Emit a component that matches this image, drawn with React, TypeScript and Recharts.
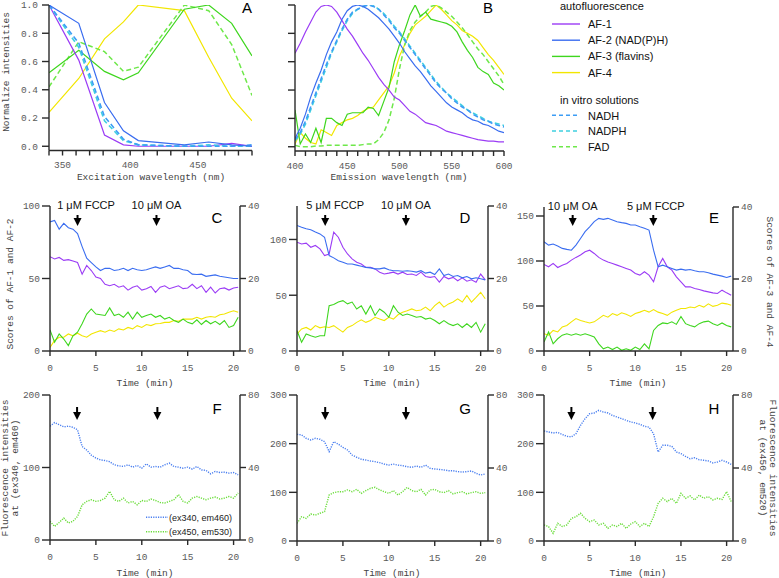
import React from "react";
import { LineChart, Line, XAxis, YAxis, ReferenceDot } from "recharts";

const MONO = "'Liberation Mono', 'DejaVu Sans Mono', monospace";
const SANS = "'Liberation Sans', Arial, sans-serif";

const C_AF1 = "#9b3cf5";
const C_AF2 = "#3a6df0";
const C_AF3 = "#3ed61e";
const C_AF4 = "#f2e600";
const C_NADH = "#3d9df5";
const C_NADPH = "#3fd0e0";
const C_FAD = "#6ee84a";
const C_DOT_BLUE = "#4a7ff0";
const C_DOT_GREEN = "#6add3a";

// ---- A: excitation spectra
const excitation = [340, 362, 381, 395, 406, 440, 458, 475, 490];
const exAF1 = [1.0, 0.61, 0.08, 0.01, 0.0, 0.0, 0.0, 0.02, 0.0];
const exAF2 = [1.0, 0.87, 0.31, 0.11, 0.04, 0.01, 0.03, 0.01, 0.0];
const exAF3 = [0.52, 0.68, 0.53, 0.47, 0.52, 0.97, 1.0, 0.87, 0.64];
const exAF4 = [0.24, 0.48, 0.76, 0.88, 1.0, 0.96, 0.63, 0.34, 0.18];
const exNADH = [1.0, 0.73, 0.21, 0.05, 0.01, 0.0, 0.0, 0.0, 0.01];
const exNADPH = [1.0, 0.7, 0.18, 0.04, 0.01, 0.0, 0.01, 0.0, 0.0];
const exFAD = [0.42, 0.74, 0.67, 0.53, 0.56, 1.0, 0.96, 0.72, 0.36];
const exTicks = [340, 350, 360, 370, 380, 390, 400, 410, 420, 430, 440, 450, 460, 470, 480, 490];

// ---- B: emission spectra
const emission = [
  400, 405, 410, 415, 420, 425, 430, 435, 440, 445, 450, 455, 460, 465, 470, 475, 480, 485, 490, 495, 500,
  505, 510, 515, 520, 525, 530, 535, 540, 545, 550, 555, 560, 565, 570, 575, 580, 585, 590, 595, 600,
];
const emAF1 = [0.66, 0.73, 0.81, 0.88, 0.95, 0.99, 1.0, 0.99, 0.95, 0.89, 0.83, 0.78, 0.72, 0.66, 0.61, 0.55, 0.49, 0.44, 0.4, 0.35, 0.33, 0.29, 0.25, 0.23, 0.2, 0.17, 0.16, 0.15, 0.13, 0.11, 0.1, 0.09, 0.08, 0.07, 0.06, 0.05, 0.045, 0.04, 0.04, 0.035, 0.035];
const emAF2 = [0.06, 0.13, 0.23, 0.35, 0.45, 0.54, 0.65, 0.74, 0.81, 0.9, 0.96, 0.99, 1.0, 0.99, 0.97, 0.94, 0.91, 0.87, 0.83, 0.78, 0.73, 0.67, 0.62, 0.57, 0.53, 0.48, 0.43, 0.39, 0.35, 0.31, 0.28, 0.26, 0.24, 0.21, 0.19, 0.18, 0.16, 0.15, 0.13, 0.11, 0.1];
const emNADH = [0.05, 0.1, 0.18, 0.28, 0.38, 0.48, 0.58, 0.67, 0.75, 0.83, 0.9, 0.95, 0.97, 0.99, 1.0, 0.99, 0.97, 0.93, 0.89, 0.84, 0.8, 0.75, 0.7, 0.65, 0.6, 0.55, 0.5, 0.45, 0.41, 0.38, 0.34, 0.31, 0.28, 0.26, 0.23, 0.21, 0.19, 0.18, 0.16, 0.15, 0.14];
const emNADPH = [0.04, 0.09, 0.16, 0.26, 0.36, 0.46, 0.56, 0.66, 0.74, 0.82, 0.89, 0.94, 0.97, 0.99, 1.0, 1.0, 0.97, 0.94, 0.9, 0.85, 0.81, 0.76, 0.71, 0.66, 0.61, 0.56, 0.51, 0.46, 0.42, 0.38, 0.35, 0.32, 0.29, 0.26, 0.24, 0.22, 0.2, 0.18, 0.17, 0.16, 0.15];
const emAF3 = [0.26, 0.02, 0.09, 0.03, 0.13, 0.03, 0.2, 0.2, 0.17, 0.15, 0.23, 0.24, 0.24, 0.24, 0.28, 0.27, 0.22, 0.32, 0.42, 0.6, 0.72, 0.82, 0.93, 1.0, 0.92, 0.95, 0.9, 0.89, 0.88, 0.87, 0.85, 0.81, 0.74, 0.68, 0.63, 0.56, 0.53, 0.51, 0.45, 0.43, 0.4];
const emAF4 = [0.02, 0.1, 0.06, 0.03, 0.02, 0.12, 0.1, 0.08, 0.15, 0.17, 0.19, 0.2, 0.22, 0.25, 0.27, 0.28, 0.33, 0.38, 0.43, 0.52, 0.64, 0.72, 0.8, 0.86, 0.89, 0.92, 0.96, 1.0, 0.97, 0.93, 0.89, 0.86, 0.82, 0.8, 0.78, 0.75, 0.7, 0.65, 0.61, 0.56, 0.51];
const emFAD = [0.01, 0.0, 0.0, 0.0, 0.005, 0.005, 0.01, 0.01, 0.01, 0.01, 0.01, 0.01, 0.01, 0.015, 0.02, 0.02, 0.05, 0.1, 0.19, 0.34, 0.55, 0.72, 0.82, 0.88, 0.92, 0.95, 0.99, 1.0, 0.98, 0.95, 0.92, 0.88, 0.84, 0.79, 0.74, 0.69, 0.65, 0.6, 0.55, 0.5, 0.44];
const emTicks = [400, 410, 420, 430, 440, 450, 460, 470, 480, 490, 500, 510, 520, 530, 540, 550, 560, 570, 580, 590, 600];

// ---- C-H: time courses (min)
const TIME = [0, 0.5, 1, 1.5, 2, 2.5, 3, 3.5, 4, 4.5, 5, 5.5, 6, 6.5, 7, 7.5, 8, 8.5, 9, 9.5, 10, 10.5, 11, 11.5, 12, 12.5, 13, 13.5, 14, 14.5, 15, 15.5, 16, 16.5, 17, 17.5, 18, 18.5, 19, 19.5, 20, 20.5];

const cAF1 = [65, 63.5, 64.5, 62.5, 63, 62, 61, 53, 59, 55.5, 51, 50, 46, 45, 46, 44, 45, 42, 44, 45, 42, 43, 44.5, 40.5, 44, 45, 43, 44, 45, 43, 43.5, 46, 43, 45, 40.5, 44, 40, 43, 43.5, 42, 43.5, 44];
const cAF2 = [89, 90, 84, 88, 85, 84, 81, 72, 64, 61, 58, 55.5, 57, 57, 55.5, 56, 57, 55.5, 57, 56, 55.5, 56, 57, 58, 57, 58, 59, 57, 57, 56, 55.5, 53, 52.8, 53, 51.5, 52, 52.5, 51.5, 51, 50.5, 50, 50];
const cAF3 = [5.8, 2.4, 4.7, 3.3, 1.5, 4.2, 5.2, 7.5, 10.2, 11.6, 10.2, 10, 9.8, 11.9, 9.8, 10.2, 9.3, 10.7, 8.8, 10.7, 9.3, 9.8, 10.2, 9.3, 9.8, 8.8, 9.3, 8.4, 7.9, 8.8, 7.9, 7.5, 8.6, 7.3, 8.4, 7.5, 8.2, 7.3, 8.4, 6.5, 7, 9.3];
const cAF4 = [1, 2.9, 3.8, 3.8, 4.7, 4.2, 4.9, 4.2, 3.8, 4.7, 5.2, 5.6, 5.2, 5.8, 5.4, 6.1, 5.8, 6.5, 6.1, 7, 6.5, 7.3, 7, 7.5, 7.6, 7.9, 7.9, 8.4, 8.2, 8.8, 8.8, 8.8, 9.3, 8.8, 9.3, 9.5, 9.3, 10, 10.2, 10.7, 11.1, 10.7];

const dAF1 = [97.6, 96, 96.7, 93, 94.6, 91.6, 85.6, 87, 106.6, 102, 93, 87, 82.6, 79.6, 78, 75, 75, 73.6, 70.7, 69, 69.8, 70.7, 69, 70.7, 68.6, 69, 67.7, 70.7, 66.8, 66, 66.8, 61.7, 66.8, 64.7, 66, 63, 65.6, 62.6, 63.8, 61.7, 69, 63.8];
const dAF2 = [112.6, 111, 109.6, 108.7, 106.6, 105, 102, 85.6, 83.5, 81, 79.6, 78, 78, 77, 76, 75, 74.5, 73.6, 73.6, 74.5, 72.8, 72, 72, 71.5, 72, 71.5, 70.7, 72, 69.8, 70.7, 68.6, 73.6, 67.7, 69, 66.8, 67.7, 65.6, 66.8, 64.7, 65.6, 64.7, 63.8];
const dAF3 = [5.6, 2.4, 4.7, 4.2, 3.8, 4.2, 4.2, 12.5, 12.8, 13.5, 13.9, 13, 13.5, 11.6, 12.5, 10.2, 12.5, 9.8, 11.6, 10.7, 9.3, 12.5, 10.7, 9.8, 10.2, 9.8, 9.3, 9.5, 8.8, 9.1, 8.4, 7.5, 8.4, 7.5, 7, 7.5, 6.5, 7.5, 6.5, 7.9, 5.2, 7.5];
const dAF4 = [4.7, 6.1, 6.5, 5.8, 7, 6.4, 6.7, 6.5, 7, 6.1, 5.2, 6.5, 7, 7.9, 8.6, 7.9, 8.4, 9.3, 8.8, 8.4, 9.3, 8.8, 10, 10.7, 11.1, 11.6, 11.1, 11.3, 12.1, 11.1, 12.5, 13.5, 12.1, 13, 13.5, 14.4, 13.5, 15.3, 13.5, 14.8, 16.2, 14.4];

const eAF1 = [96.2, 93.6, 97.3, 92.8, 95.4, 97.3, 101, 104, 106.6, 110.3, 112, 108.4, 104, 101, 99, 97.3, 95.4, 93.6, 91.7, 89.9, 86.1, 84.3, 88, 84.3, 76.9, 93.6, 102.9, 93.6, 89.9, 82.4, 76.9, 71.3, 71.3, 69.4, 68.3, 66.8, 65.7, 64.6, 63.9, 67.6, 64.6, 62];
const eAF2 = [121.4, 117.7, 118.8, 116.6, 114, 112.9, 112, 117.7, 125, 132.6, 138, 143.7, 147.4, 146.3, 147.4, 145.6, 143.7, 142.6, 141.8, 140, 140, 138, 136.3, 134.4, 112, 93.6, 95.4, 93.6, 91.7, 89.9, 91, 89.9, 90.6, 89.1, 88, 88, 86.9, 85.4, 84.3, 83.2, 81.7, 83.2];
const eAF3 = [2.5, 5.3, 2, 3.4, 4.4, 4.8, 4.4, 4.8, 4.4, 4.8, 4.4, 3.9, 2, 0.6, 1.1, 0.4, 1.1, 0.2, 0.6, 0.2, 1.1, 0.4, 2, 0.6, 5.7, 7.1, 7.8, 7.6, 8.1, 7.4, 9.6, 7.6, 7.1, 6.7, 7.6, 8.1, 8.3, 7.6, 7.1, 7.8, 7.1, 6.7];
const eAF4 = [4.8, 4.4, 5.7, 5.3, 6.7, 7.1, 8.1, 9, 8.5, 8.1, 7.8, 8.1, 9, 9.9, 9.4, 10.4, 9.9, 10.6, 10.2, 9.6, 10.4, 10.8, 11.3, 10.8, 11.5, 10.8, 10.4, 9.9, 10.8, 11.3, 11.8, 11.8, 12.2, 12, 12.7, 12.2, 13.1, 12.4, 12.7, 13.3, 13.1, 12.7];

const fBlue = [157, 162, 159, 156, 157, 155.5, 152, 129, 124, 117, 113, 110.5, 109.6, 108, 103.7, 102.3, 101.4, 103.7, 100.5, 102.8, 99, 105, 100.5, 101.4, 100.5, 103.7, 106, 101.4, 100.5, 99, 100.5, 97.7, 101.4, 96.8, 95.9, 91.3, 94.5, 93.1, 93.6, 92.2, 93.1, 90];
const fGreen = [10.3, 7.5, 9.7, 12.1, 9.4, 10.3, 13, 19.4, 21.3, 22.2, 21.3, 21.8, 23.1, 26.8, 22.2, 21.3, 23.1, 20.4, 21.3, 19.4, 21.8, 21.3, 22.6, 21.8, 20.7, 20.4, 21.3, 22.2, 25, 21.3, 20.4, 23.1, 24, 23.1, 22.2, 23.1, 23.7, 22.6, 23.1, 24, 23.1, 25.9];
const gBlue = [219, 218, 211, 207.5, 211, 209, 204, 183.6, 204, 199, 192.5, 187, 176.7, 172, 168, 166.4, 164.4, 163, 161, 158, 156, 158, 156, 154.8, 152.7, 151.4, 154, 151.4, 156, 149.3, 148, 147, 146, 144.5, 144.5, 142.5, 141.8, 142.5, 143.8, 139, 135.6, 137.7];
const gGreen = [9.7, 13.3, 12.4, 14.8, 14.2, 15.2, 16.1, 25.2, 26.5, 27, 27, 28, 27, 28.3, 26.1, 27.6, 28.9, 29.4, 28, 27, 26.1, 27.6, 25.2, 27, 29.4, 27.6, 27, 28.3, 25.2, 28, 28.3, 27, 26.5, 27.6, 25.8, 26.5, 27, 25.8, 26.5, 27, 26.1, 26.5];
const hBlue = [226, 224, 222, 223, 219, 215, 214, 220.5, 237.7, 251.4, 261.6, 263, 268.5, 265, 263, 258, 254.8, 251.4, 248, 244.5, 242.5, 239.7, 235.6, 234, 220.5, 182.9, 196.6, 196.6, 194.5, 182.9, 179.5, 174, 169, 171, 167, 165.8, 164.4, 160.3, 162.3, 165.8, 162.3, 157.5];
const hGreen = [8.8, 7.9, 4.2, 9.7, 7.9, 8.8, 12.4, 13.3, 15.2, 12.4, 10.6, 11.5, 8.8, 9.7, 6.9, 8.8, 7.9, 9.7, 6.9, 9.3, 10.6, 7.9, 9.7, 7.9, 13.3, 20.6, 23.4, 21.6, 23.4, 20.6, 26.1, 23.4, 24.7, 22.5, 25.2, 23.4, 24.3, 22.5, 23.4, 22.8, 27, 21.6];

const timeTicks = [0, 5, 10, 15, 20];

const legendAuto = [
  { name: "AF-1", color: C_AF1 },
  { name: "AF-2 (NAD(P)H)", color: C_AF2 },
  { name: "AF-3 (flavins)", color: C_AF3 },
  { name: "AF-4", color: C_AF4 },
];
const legendVitro = [
  { name: "NADH", color: C_NADH },
  { name: "NADPH", color: C_NADPH },
  { name: "FAD", color: C_FAD },
];

const AXIS = { stroke: "#2a2a2a", strokeWidth: 1.4 };
const TICK = { fill: "#5a5a5a", fontSize: 9.5, fontFamily: MONO };

type Series = { key: string; color: string; axis?: string; dash?: string; width?: number };
type Arrow = { t: number; label?: string; dx?: number };

const spectrumSeries: Series[] = [
  { key: "af4", color: C_AF4 },
  { key: "fad", color: C_FAD, dash: "5 3", width: 1.5 },
  { key: "af3", color: C_AF3 },
  { key: "af1", color: C_AF1 },
  { key: "nadph", color: C_NADPH, dash: "5 3", width: 1.6 },
  { key: "nadh", color: C_NADH, dash: "5 3", width: 1.6 },
  { key: "af2", color: C_AF2 },
];

function zipRows(xKey: string, xs: number[], cols: Record<string, number[]>) {
  return xs.map((x, i) => {
    const r: Record<string, number> = { [xKey]: x };
    for (const k of Object.keys(cols)) r[k] = cols[k][i];
    return r;
  });
}

const rowsA = zipRows("wl", excitation, { af1: exAF1, af2: exAF2, af3: exAF3, af4: exAF4, nadh: exNADH, nadph: exNADPH, fad: exFAD });
const rowsB = zipRows("wl", emission, { af1: emAF1, af2: emAF2, af3: emAF3, af4: emAF4, nadh: emNADH, nadph: emNADPH, fad: emFAD });

// axis sits a few px under the zero line, Igor style
function SpectrumPanel(props: {
  x0: number; y0: number; x1: number; y1: number; leftW: number;
  rows: Record<string, number>[]; domain: number[]; ticks: number[]; yLabels: boolean;
}) {
  const { x0, y0, x1, y1, leftW, rows, domain, ticks, yLabels } = props;
  const topPad = 5, rightW = 12, bottomH = 24;
  return (
    <div style={{ position: "absolute", left: x0 - leftW, top: y0 - topPad }}>
      <LineChart width={x1 - x0 + leftW + rightW} height={y1 - y0 + topPad + bottomH} data={rows}
        margin={{ top: topPad, right: rightW, bottom: 0, left: 0 }}>
        <XAxis dataKey="wl" type="number" domain={domain} ticks={ticks} interval={0} allowDataOverflow
          tickFormatter={(v: number) => (v % 50 === 0 ? String(v) : "")}
          height={bottomH} tickSize={5} tickMargin={6} axisLine={AXIS} tickLine={AXIS} tick={TICK} />
        <YAxis type="number" domain={[-0.03, 1]} ticks={[0, 0.2, 0.4, 0.6, 0.8, 1]} interval={0} width={leftW}
          allowDataOverflow
          tickFormatter={(v: number) => (yLabels ? v.toFixed(1) : "")}
          tickSize={7} tickMargin={4} axisLine={AXIS} tickLine={AXIS} tick={TICK} />
        {spectrumSeries.map((s) => (
          <Line key={s.key} dataKey={s.key} type="linear" stroke={s.color} strokeWidth={s.width ?? 1.2}
            strokeDasharray={s.dash} dot={false} isAnimationActive={false} />
        ))}
      </LineChart>
    </div>
  );
}

function arrowShape(a: Arrow, top: number, tip: number) {
  return (p: any) => {
    const { cx, cy } = p;
    return (
      <g>
        {a.label && (
          <text x={cx + (a.dx ?? 0)} y={cy + 2.5} textAnchor="middle" fontFamily={SANS} fontSize={11} fill="#111">
            {a.label}
          </text>
        )}
        <line x1={cx} y1={cy + top} x2={cx} y2={cy + tip - 6} stroke="#000" strokeWidth={2} />
        <path d={`M${cx - 4},${cy + tip - 8} L${cx + 4},${cy + tip - 8} L${cx},${cy + tip} Z`} fill="#000" />
      </g>
    );
  };
}

function TimePanel(props: {
  x0: number; y0: number; x1: number; y1: number; xMax: number;
  cols: Record<string, number[]>; series: Series[];
  leftMax: number; leftTicks: number[]; rightMax: number; rightTicks: number[];
  arrows: Arrow[]; arrowTop: number; arrowTip: number;
}) {
  const { x0, y0, x1, y1, xMax, cols, series, leftMax, leftTicks, rightMax, rightTicks, arrows, arrowTop, arrowTip } = props;
  const leftW = 48, rightW = 36, topPad = 22, bottomH = 30;
  const rows = zipRows("t", TIME, cols);
  return (
    <div style={{ position: "absolute", left: x0 - leftW, top: y0 - topPad }}>
      <LineChart width={x1 - x0 + leftW + rightW} height={y1 - y0 + topPad + bottomH} data={rows}
        margin={{ top: topPad, right: 0, bottom: 0, left: 0 }}>
        <XAxis dataKey="t" type="number" domain={[0, xMax]} ticks={timeTicks} interval={0} allowDataOverflow
          height={bottomH} tickSize={5} tickMargin={8} axisLine={AXIS} tickLine={AXIS} tick={TICK} />
        <YAxis yAxisId="l" type="number" domain={[0, leftMax]} ticks={leftTicks} interval={0} width={leftW}
          tickSize={8} tickMargin={2} axisLine={AXIS} tickLine={AXIS} tick={TICK} />
        <YAxis yAxisId="r" orientation="right" type="number" domain={[0, rightMax]} ticks={rightTicks} interval={0}
          width={rightW} tickSize={6} tickMargin={2} axisLine={AXIS} tickLine={AXIS} tick={TICK} />
        {series.map((s) => (
          <Line key={s.key} yAxisId={s.axis ?? "l"} dataKey={s.key} type="linear" stroke={s.color}
            strokeWidth={s.width ?? 1.1} strokeDasharray={s.dash} dot={false} isAnimationActive={false} />
        ))}
        {arrows.map((a, i) => (
          <ReferenceDot key={i} yAxisId="l" x={a.t} y={leftMax} r={0} ifOverflow="visible"
            shape={arrowShape(a, arrowTop, arrowTip)} />
        ))}
      </LineChart>
    </div>
  );
}

const scoreSeries: Series[] = [
  { key: "af4", color: C_AF4, axis: "r" },
  { key: "af3", color: C_AF3, axis: "r" },
  { key: "af1", color: C_AF1 },
  { key: "af2", color: C_AF2 },
];
const fluoSeries: Series[] = [
  { key: "green", color: C_DOT_GREEN, axis: "r", dash: "1.2 1.2", width: 1.4 },
  { key: "blue", color: C_DOT_BLUE, dash: "1.2 1.2", width: 1.4 },
];

function VText(p: { x: number; y: number; rot: number; children: React.ReactNode }) {
  return (
    <text transform={`translate(${p.x},${p.y}) rotate(${p.rot})`} textAnchor="middle" dominantBaseline="central"
      fontFamily={MONO} fontSize={9.5} fill="#444">
      {p.children}
    </text>
  );
}

const letters = [
  { s: "A", x: 247, y: 13 }, { s: "B", x: 488, y: 13 },
  { s: "C", x: 217, y: 223 }, { s: "D", x: 465, y: 223 }, { s: "E", x: 714, y: 223 },
  { s: "F", x: 217, y: 414 }, { s: "G", x: 465, y: 414 }, { s: "H", x: 714, y: 414 },
];
const xTitles = [
  { s: "Excitation wavelength (nm)", x: 151, y: 177 }, { s: "Emission wavelength (nm)", x: 399, y: 177 },
  { s: "Time (min)", x: 145, y: 383 }, { s: "Time (min)", x: 392, y: 383 }, { s: "Time (min)", x: 638, y: 383 },
  { s: "Time (min)", x: 145, y: 573 }, { s: "Time (min)", x: 392, y: 573 }, { s: "Time (min)", x: 638, y: 573 },
];

function Overlay() {
  return (
    <svg width={779} height={578} style={{ position: "absolute", left: 0, top: 0, pointerEvents: "none" }}>
      {letters.map((l) => (
        <text key={l.s} x={l.x} y={l.y} textAnchor="middle" fontFamily={SANS} fontSize={15} fill="#000">{l.s}</text>
      ))}
      {xTitles.map((t, i) => (
        <text key={i} x={t.x} y={t.y} textAnchor="middle" dominantBaseline="central" fontFamily={MONO} fontSize={9.5} fill="#444">{t.s}</text>
      ))}
      <VText x={6} y={72} rot={-90}>Normalize intensities</VText>
      <VText x={10.5} y={284} rot={-90}>Scores of AF-1 and AF-2</VText>
      <VText x={769} y={282} rot={90}>Scores of AF-3 and AF-4</VText>
      <VText x={5.5} y={468} rot={-90}>Fluorescence intensities</VText>
      <VText x={15.5} y={468} rot={-90}>at (ex340, em460)</VText>
      <VText x={772} y={468} rot={90}>Fluorescence intensities</VText>
      <VText x={762} y={468} rot={90}>at (ex450, em520)</VText>

      <g fontFamily={SANS} fontSize={11} fill="#111">
        <text x={560} y={9.5}>autofluorescence</text>
        {legendAuto.map((it, i) => (
          <g key={it.name}>
            <line x1={552} x2={580} y1={24 + i * 16.2} y2={24 + i * 16.2} stroke={it.color} strokeWidth={1.4} />
            <text x={588} y={28 + i * 16.2}>{it.name}</text>
          </g>
        ))}
        <text x={560} y={104}>in vitro solutions</text>
        {legendVitro.map((it, i) => (
          <g key={it.name}>
            <line x1={552} x2={580} y1={115.3 + i * 15.7} y2={115.3 + i * 15.7} stroke={it.color} strokeWidth={1.4} strokeDasharray="4 3" />
            <text x={588} y={119.5 + i * 15.7}>{it.name}</text>
          </g>
        ))}
      </g>

      <g fontFamily={SANS} fontSize={9} fill="#222">
        <line x1={146} x2={168} y1={517.3} y2={517.3} stroke={C_DOT_BLUE} strokeWidth={1.4} strokeDasharray="1.2 1.2" />
        <text x={169} y={520.5}>(ex340, em460)</text>
        <line x1={146} x2={168} y1={531.7} y2={531.7} stroke={C_DOT_GREEN} strokeWidth={1.4} strokeDasharray="1.2 1.2" />
        <text x={169} y={535}>(ex450, em530)</text>
      </g>
    </svg>
  );
}

export default function App() {
  return (
    <div style={{ position: "absolute", left: 0, top: 0, width: 779, height: 578, background: "#fff", overflow: "hidden" }}>
      <SpectrumPanel x0={49} y0={5} x1={252} y1={150.5} leftW={49} rows={rowsA} domain={[340, 490]} ticks={exTicks} yLabels />
      <SpectrumPanel x0={295} y0={5} x1={504} y1={151} leftW={12} rows={rowsB} domain={[400, 600]} ticks={emTicks} yLabels={false} />

      <TimePanel x0={50} y0={206} x1={240} y1={351} xMax={20.7}
        cols={{ af1: cAF1, af2: cAF2, af3: cAF3, af4: cAF4 }} series={scoreSeries}
        leftMax={100} leftTicks={[0, 50, 100]} rightMax={40} rightTicks={[0, 20, 40]}
        arrows={[{ t: 3, label: "1 μM FCCP", dx: 8.5 }, { t: 11.6, label: "10 μM OA", dx: 0 }]} arrowTop={9} arrowTip={20} />
      <TimePanel x0={297} y0={206} x1={488} y1={351} xMax={20.8}
        cols={{ af1: dAF1, af2: dAF2, af3: dAF3, af4: dAF4 }} series={scoreSeries}
        leftMax={130} leftTicks={[0, 50, 100]} rightMax={40} rightTicks={[0, 20, 40]}
        arrows={[{ t: 3.07, label: "5 μM FCCP", dx: 10 }, { t: 11.86, label: "10 μM OA", dx: 0 }]} arrowTop={9} arrowTip={20} />
      <TimePanel x0={544} y0={207} x1={733} y1={351} xMax={20.7}
        cols={{ af1: eAF1, af2: eAF2, af3: eAF3, af4: eAF4 }} series={scoreSeries}
        leftMax={160} leftTicks={[0, 50, 100, 150]} rightMax={40} rightTicks={[0, 20, 40]}
        arrows={[{ t: 3.14, label: "10 μM OA", dx: 0 }, { t: 11.97, label: "5 μM FCCP", dx: 2.5 }]} arrowTop={8} arrowTip={19} />

      <TimePanel x0={50} y0={395} x1={240} y1={540} xMax={20.7}
        cols={{ blue: fBlue, green: fGreen }} series={fluoSeries}
        leftMax={200} leftTicks={[0, 100, 200]} rightMax={80} rightTicks={[0, 40, 80]}
        arrows={[{ t: 2.95 }, { t: 11.7 }]} arrowTop={12} arrowTip={25} />
      <TimePanel x0={297} y0={395} x1={488} y1={541} xMax={20.8}
        cols={{ blue: gBlue, green: gGreen }} series={fluoSeries}
        leftMax={300} leftTicks={[0, 100, 200, 300]} rightMax={80} rightTicks={[0, 40, 80]}
        arrows={[{ t: 3.07 }, { t: 11.86 }]} arrowTop={12} arrowTip={25} />
      <TimePanel x0={544} y0={395} x1={733} y1={541} xMax={20.7}
        cols={{ blue: hBlue, green: hGreen }} series={fluoSeries}
        leftMax={300} leftTicks={[0, 100, 200, 300]} rightMax={80} rightTicks={[0, 40, 80]}
        arrows={[{ t: 3.0 }, { t: 11.9 }]} arrowTop={12} arrowTip={25} />

      <Overlay />
    </div>
  );
}
